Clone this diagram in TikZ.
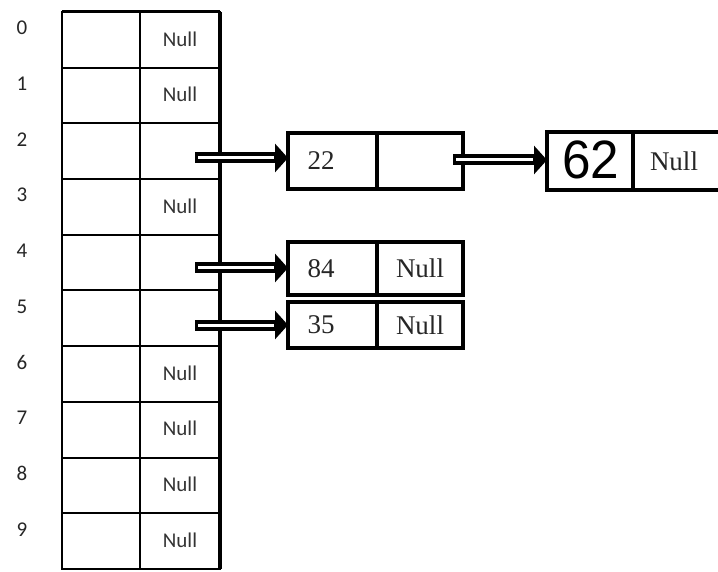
\documentclass[tikz,border=0pt]{standalone}
\usepackage{fontspec}
\newfontfamily\calfont{Carlito}
\newfontfamily\tmsfont{Liberation Serif}
\newfontfamily\handfont{Liberation Sans}
\usetikzlibrary{arrows.meta}
\begin{document}
\begin{tikzpicture}[x=1pt,y=-1pt,
  tcell/.style={draw, line width=2pt, minimum height=55.7pt, inner sep=0pt, outer sep=0pt},
  bcell/.style={draw, line width=3.4pt, inner sep=0pt, outer sep=0pt},
  nulltxt/.style={font=\calfont\fontsize{21}{21}\selectfont, text=black!80},
  idx/.style={font=\calfont\fontsize{21}{21}\selectfont, text=black!85},
  btxt/.style={font=\tmsfont\fontsize{27}{27}\selectfont, text=black!85},
  dblarrow/.style={line width=11pt, -{Triangle[length=13pt,width=28pt]},
    postaction={draw=white, line width=3pt, shorten <=3pt, shorten >=14pt, -}}]
\useasboundingbox (0,0) rectangle (718,572);
\fill[white] (0,0) rectangle (718,572);
% hash table
\foreach \i in {0,...,9}{
  \node[tcell, minimum width=78pt] (k\i) at (101,{12+55.7*(\i+0.5)}) {};
  \node[tcell, minimum width=80pt] (p\i) at (180,{12+55.7*(\i+0.5)}) {};
  \node[idx] (l\i) at (22,{12+55.7*\i+16}) {\i};
}
\draw[line width=3.4pt] (p0.north east) -- (p9.south east);
\draw[line width=3pt] (k0.north west) -- (p0.north east);
\foreach \i in {0,1,3,6,7,8,9}{
  \node[nulltxt] (n\i) at ([yshift=1pt]p\i.center) {Null};
}
% chain of slot 2
\node[bcell, minimum width=89pt, minimum height=56pt] (d22) at (332.5,161) {};
\node[btxt, anchor=west] (t22) at (304,161) {22};
\node[bcell, minimum width=86pt, minimum height=56pt, anchor=west] (q22) at (d22.east) {};
\node[bcell, minimum width=86pt, minimum height=58pt] (d62) at (590,161) {};
\node[font=\handfont\fontsize{54}{54}\selectfont, xscale=0.95] (t62) at (591,160) {62};
\node[bcell, minimum width=92pt, minimum height=58pt, anchor=west] (q62) at (d62.east) {};
\node[btxt] (n62) at (674,161) {Null};
% slot 4
\node[bcell, minimum width=89pt, minimum height=53pt] (d84) at (332.5,268.5) {};
\node[btxt, anchor=west] (t84) at (304,268.5) {84};
\node[bcell, minimum width=86pt, minimum height=53pt, anchor=west] (q84) at (d84.east) {};
\node[btxt] (n84) at (q84.center) {Null};
% slot 5
\node[bcell, minimum width=89pt, minimum height=46pt] (d35) at (332.5,325) {};
\node[btxt, anchor=west] (t35) at (304,325) {35};
\node[bcell, minimum width=86pt, minimum height=46pt, anchor=west] (q35) at (d35.east) {};
\node[btxt] (n35) at (q35.center) {Null};
% arrows
\coordinate (s2) at (195,158);
\coordinate (s4) at (195,268);
\coordinate (s5) at (195,325);
\coordinate (s22) at (453,160);
\draw[dblarrow] (s2) -- (s2 -| d22.west);
\draw[dblarrow] (s4) -- (s4 -| d84.west);
\draw[dblarrow] (s5) -- (s5 -| d35.west);
\draw[dblarrow] (s22) -- (s22 -| d62.west);
\end{tikzpicture}
\end{document}
